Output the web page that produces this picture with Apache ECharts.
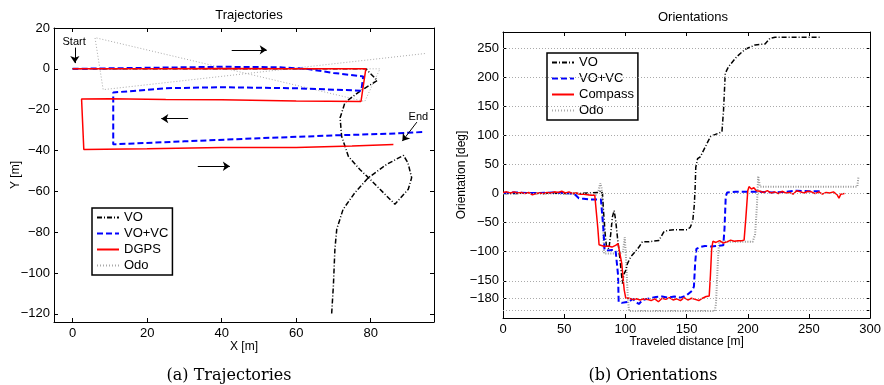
<!DOCTYPE html>
<html>
<head>
<meta charset="utf-8">
<script src="https://cdn.jsdelivr.net/npm/echarts@6/dist/echarts.min.js"></script>
<style>
  html, body { margin: 0; padding: 0; background: #fff; }
  #chart { width: 884px; height: 385px; }
</style>
</head>
<body>
<div id="chart"></div>
<script>
// (a) trajectories, [x, y] in metres
const voPath = [[0,0],[20,0],[40,0],[60,0],[78.7,0],[81.8,-5.7],[77.1,-11],[73.1,-16.5],[71.8,-24],[72.2,-33],[74,-42.8],[77.1,-49.3],[79.4,-53.3],[82.5,-59],[86.5,-66.3],[90.1,-59],[91,-53.3],[90,-46],[88.8,-42.4],[84.3,-46.8],[79.4,-53.3],[75.8,-60.6],[72.6,-68.8],[70.9,-78.5],[70.4,-88.3],[70,-106],[69.5,-120.8]];
const vovcPath = [[0,0],[20,0.5],[40,1],[55,0.8],[62.8,0],[70,-2],[78,-3.7],[77.5,-10.7],[60,-9.5],[40,-9],[25,-9.5],[10.9,-11.6],[10.9,-37],[30,-35.5],[50,-34],[71.8,-32.5],[85,-31.8],[94.6,-30.9]];
const dgpsPath = [[0,0],[20,0],[40,0.2],[60,0],[78.7,0],[77.4,-16],[60,-15.8],[40,-15.2],[25,-15],[10,-14.6],[2.4,-14.8],[3.0,-39.5],[20,-39.2],[40,-38.5],[60,-38.5],[75,-37.8],[86.1,-37.1]];
const odoPath = [[0,0],[82.5,0],[78.4,-16],[6,15.3],[8.2,-10.2],[94.6,7.5]];

// (b) orientations, [distance, deg]
const voOri = [[0,0],[10,0],[20,1],[30,0],[40,1],[50,0],[60,0],[70,1],[78,2],[80,5],[81.3,0],[82.1,-29],[83.5,-70],[84.5,-90],[86.5,-95],[88,-70],[89.4,-40],[90.8,-29],[92,-45],[93.5,-75],[94.9,-100],[96.2,-126],[97.6,-155],[98.9,-138],[100.3,-132],[101.6,-121],[104.3,-109],[108,-100],[111.1,-92],[113.8,-83],[119,-83],[127.4,-80.5],[131.4,-66],[135,-63],[141,-62],[150.4,-62],[153,-58],[155,-48],[156.3,-20],[157,10],[157.5,45],[159,60],[161.2,63],[165.3,80.5],[169.4,97.7],[172.1,100.6],[178.9,106.3],[180.2,143.6],[181.6,206.9],[184.3,218.4],[191,235.5],[197.9,248.3],[206,255.7],[214.1,257.4],[218.2,267.2],[222.3,269],[258.8,269]];
const vovcOri = [[0,1],[10,2],[20,1],[30,1],[40,2],[50,1],[58,0],[62,-8],[66,-9],[70,-10],[75,-10],[80,-10],[81.5,-12],[82,-60],[83,-97],[86,-98],[89,-97],[92,-98],[93.5,-100],[94,-140],[94.5,-186],[97,-188],[100,-187],[103,-186],[106,-181],[109,-187],[111,-190],[114,-183],[120,-180],[125,-178],[130,-177],[135,-179],[140,-177],[145,-179],[150,-175],[154.5,-167],[156,-160],[157,-120],[158,-95],[161,-92],[165,-90],[170,-91],[175,-90],[180,-89],[181,-60],[182,-5],[183.2,2],[190,3],[200,3],[210,3],[220,2],[230,3],[240,5],[250,4],[259,4]];
const compassOri = [[0,2],[3,3],[6,1],[9,3],[12,1],[15,2],[18,0],[21,2],[24,-2],[27,0],[30,1],[33,0],[36,2],[39,1],[42,3],[45,2],[48,4],[51,1],[54,3],[57,0],[60,1],[63,-1],[66,-1],[69,-2],[72,-3],[75,-3],[76.5,-4],[77.5,-60],[78.5,-88],[80,-90],[83,-91],[86,-90],[89,-92],[92,-89],[94,-86],[95.5,-87],[97,-120],[99,-165],[100.3,-180],[103,-180],[106,-182],[109,-181],[112,-183],[115,-181],[118,-182],[121,-184],[124,-181],[127,-186],[130,-180],[133,-182],[136,-179],[139,-183],[142,-181],[145,-184],[148,-179],[151,-183],[154,-180],[157,-182],[160,-184],[163,-180],[166,-177],[168.5,-176],[169.5,-140],[170.5,-95],[171.5,-82],[174,-84],[177,-81],[180,-85],[183,-83],[186,-80],[189,-82],[192,-81],[195,-81],[197,-80],[198.5,-40],[200,5],[201,12],[203,8],[205,10],[207,5],[210,4],[213,2],[216,5],[219,1],[222,3],[225,0],[228,4],[231,1],[234,2],[237,-1],[240,5],[243,3],[246,1],[249,4],[252,3],[255,0],[258,3],[261,-1],[264,2],[267,1],[270,3],[273,-2],[274.5,-8],[276,-1],[279,0]];
const odoOri = [[0,0],[20,1],[40,0],[60,0],[70,-1],[76,-2],[78,5],[79.5,18],[80.5,10],[81.5,-30],[82.5,-103],[84,-103],[90,-103],[95,-103],[98,-100],[99.5,-75],[100.5,-110],[102,-180],[103,-202],[120,-202],[140,-202],[160,-202],[173,-202],[174,-190],[175.5,-120],[176.5,-83],[180,-83],[190,-83],[200,-83],[204,-83],[206,-70],[207.5,-20],[208.5,30],[210,12],[230,12],[250,12],[270,12],[289.5,12],[290.5,30]];

// ticks
const xTicksA = [0, 20, 40, 60, 80];
const yTicksA = [20, 0, -20, -40, -60, -80, -100, -120];
const xTicksB = [0, 50, 100, 150, 200, 250, 300];
const yTicksB = [-200, -180, -150, -100, -50, 0, 50, 100, 150, 200, 250];

// annotations on (a)
const dirArrows = [[[42.7, 9.3], [52.1, 9.3]], [[31.0, -24.4], [23.8, -24.4]], [[33.6, -47.7], [42.2, -47.7]], [[0.6, 10.4], [0.6, 2.8]], [[92.4, -26.1], [88.5, -35.4]]];
const textNotes = [['Start', [0.4, 13.2]], ['End', [92.8, -23.6]]];

const FONT = 'Liberation Sans, Arial, sans-serif';
const minus = v => String(v).replace('-', '\u2212');

function axisPair(kind, gridIndex, min, max, ticks, pos, showLabel, name, nameGap) {
  const a = {
    type: 'value', gridIndex, min, max, position: pos,
    axisLine: { show: true, onZero: false, lineStyle: { color: '#000', width: 1 } },
    axisTick: { show: true, inside: true, length: 4, customValues: ticks, lineStyle: { color: '#000' } },
    axisLabel: { show: showLabel, customValues: ticks, formatter: minus, color: '#000',
      fontSize: 13, fontFamily: FONT, margin: kind === 'x' ? 5 : 4 },
    splitLine: { show: false }
  };
  if (name) {
    a.name = name; a.nameLocation = 'middle'; a.nameGap = nameGap;
    a.nameMoveOverlap = false;
    a.nameTextStyle = { color: '#000', fontSize: 12, fontFamily: FONT };
  }
  return a;
}

const VO_STYLE = { color: '#000', width: 1.5, type: [5, 2, 1, 2] };
const VC_STYLE = { color: '#0000ff', width: 2, type: [6, 3] };
const RED_STYLE = { color: '#ff0000', width: 1.5, type: 'solid' };
const ODO_STYLE = { color: '#aaa', width: 1, type: [1, 2] };
const ODO_STYLE_B = { color: '#999', width: 2, type: [1, 1.5] };

function line(name, data, xi, yi, ls, extra) {
  return Object.assign({
    name, type: 'line', data, xAxisIndex: xi, yAxisIndex: yi,
    symbol: 'none', lineStyle: ls, itemStyle: { color: ls.color },
    silent: true, z: 3
  }, extra || {});
}

const arrowMarks = {
  silent: true, symbol: ['none', 'arrow'], symbolSize: 7,
  lineStyle: { color: '#000', width: 1, type: 'solid' }, label: { show: false },
  data: dirArrows.map(a => [{ coord: a[0] }, { coord: a[1] }])
};

const noteMarks = {
  silent: true, symbol: 'circle', symbolSize: 1,
  itemStyle: { color: 'rgba(0,0,0,0)' },
  label: { show: true, position: 'inside', color: '#000', fontSize: 11, fontFamily: FONT,
    formatter: p => p.name },
  data: textNotes.map(n => ({ name: n[0], coord: n[1] }))
};

const gridMarks = {
  silent: true, symbol: ['none', 'none'], label: { show: false },
  lineStyle: { color: '#aaa', width: 1, type: [1, 2] },
  data: yTicksB.map(v => ({ yAxis: v }))
};

const legendBase = {
  orient: 'vertical', padding: [3, 4], itemWidth: 22, itemHeight: 10, itemGap: 3,
  borderColor: '#000', borderWidth: 1.5, backgroundColor: '#fff', selectedMode: false,
  itemStyle: { color: 'rgba(0,0,0,0)', borderColor: 'rgba(0,0,0,0)', borderWidth: 0 },
  textStyle: { color: '#000', fontSize: 13, fontFamily: FONT }
};

const option = {
  animation: false,
  backgroundColor: '#fff',
  title: [
    { text: 'Trajectories', left: 244, top: 4, textAlign: 'center',
      textStyle: { fontSize: 13, fontWeight: 'normal', color: '#000', fontFamily: FONT } },
    { text: 'Orientations', left: 688, top: 6, textAlign: 'center',
      textStyle: { fontSize: 13, fontWeight: 'normal', color: '#000', fontFamily: FONT } },
    { text: '(a) Trajectories', left: 224, top: 363, textAlign: 'center',
      textStyle: { fontSize: 16, fontWeight: 'normal', color: '#000', fontFamily: 'DejaVu Serif, serif' } },
    { text: '(b) Orientations', left: 648, top: 363, textAlign: 'center',
      textStyle: { fontSize: 16, fontWeight: 'normal', color: '#000', fontFamily: 'DejaVu Serif, serif' } }
  ],
  legend: [
    Object.assign({}, legendBase, { left: 92, top: 208, data: ['VO', 'VO+VC', 'DGPS', 'Odo'] }),
    Object.assign({}, legendBase, { left: 547, top: 53, data: ['VO', 'VO+VC', 'Compass', 'Odo'] })
  ],
  grid: [
    { left: 54, top: 28, width: 380, height: 294, containLabel: false },
    { left: 503, top: 32, width: 369, height: 286, containLabel: false }
  ],
  xAxis: [
    axisPair('x', 0, -5, 97, xTicksA, 'bottom', true, 'X [m]', 19),
    axisPair('x', 0, -5, 97, xTicksA, 'top', false),
    axisPair('x', 1, 0, 300, xTicksB, 'bottom', true, 'Traveled distance [m]', 18),
    axisPair('x', 1, 0, 300, xTicksB, 'top', false)
  ],
  yAxis: [
    axisPair('y', 0, -124, 20, yTicksA, 'left', true, 'Y [m]', 32),
    axisPair('y', 0, -124, 20, yTicksA, 'right', false),
    axisPair('y', 1, -214, 278, yTicksB, 'left', true, 'Orientation [deg]', 35),
    axisPair('y', 1, -214, 278, yTicksB, 'right', false)
  ],
  series: [
    line('Odo', odoPath, 0, 0, ODO_STYLE),
    line('VO', voPath, 0, 0, VO_STYLE),
    line('VO+VC', vovcPath, 0, 0, VC_STYLE),
    line('DGPS', dgpsPath, 0, 0, RED_STYLE, { markLine: arrowMarks, markPoint: noteMarks }),
    line('Odo', odoOri, 2, 2, ODO_STYLE_B, { markLine: gridMarks }),
    line('VO', voOri, 2, 2, VO_STYLE),
    line('VO+VC', vovcOri, 2, 2, VC_STYLE),
    line('Compass', compassOri, 2, 2, RED_STYLE)
  ]
};

const chart = echarts.init(document.getElementById('chart'));
chart.setOption(option);
</script>
</body>
</html>
